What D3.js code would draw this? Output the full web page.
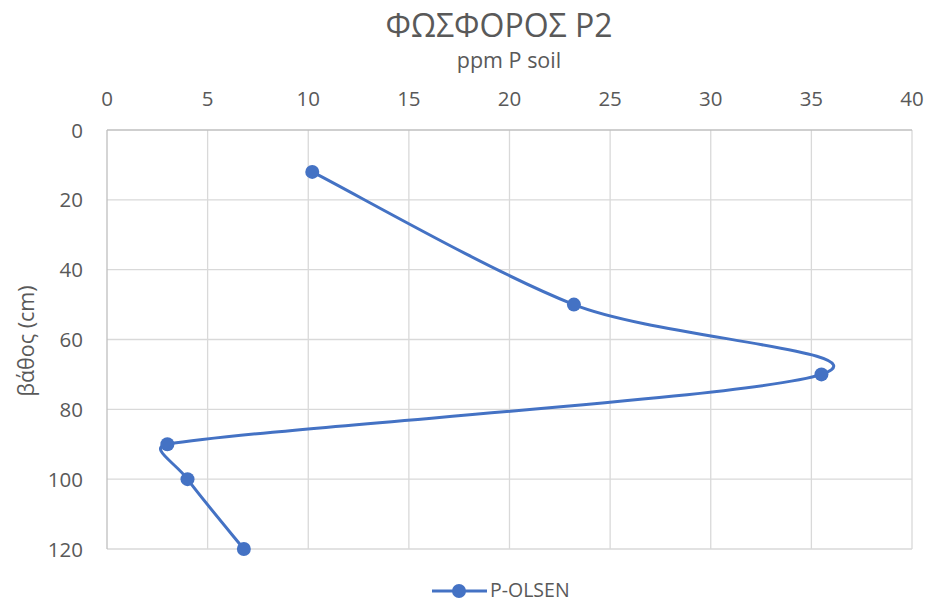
<!DOCTYPE html>
<html><head><meta charset="utf-8">
<script src="https://cdn.jsdelivr.net/npm/d3@7"></script>
<style>body{margin:0;background:#fff}svg{display:block}text{font-family:"Open Sans",sans-serif}</style>
</head><body>
<script>
const ppm = [10.2, 23.2, 35.5, 3.0, 4.0, 6.8];
const depth = [12, 50, 70, 90, 100, 120];
const xTicks = [0,5,10,15,20,25,30,35,40];
const yTicks = [0,20,40,60,80,100,120];
const seriesName = "P-OLSEN";

const W=930,H=602;
const svg=d3.select("body").append("svg").attr("width",W).attr("height",H);
const x=d3.scaleLinear().domain([0,40]).range([107,912]);
const y=d3.scaleLinear().domain([0,120]).range([130,549]);
const col="#4472C4";

// gridlines
svg.append("g").selectAll("line.v").data(xTicks.slice(1)).join("line")
 .attr("x1",d=>x(d)).attr("x2",d=>x(d)).attr("y1",y(0)).attr("y2",y(120))
 .attr("stroke","#D9D9D9").attr("stroke-width",1.3);
svg.append("g").selectAll("line.h").data(yTicks.slice(1)).join("line")
 .attr("x1",x(0)).attr("x2",x(40)).attr("y1",d=>y(d)).attr("y2",d=>y(d))
 .attr("stroke","#D9D9D9").attr("stroke-width",1.3);
// axis lines
svg.append("line").attr("x1",x(0)).attr("x2",x(40)).attr("y1",y(0)).attr("y2",y(0)).attr("stroke","#BFBFBF").attr("stroke-width",1.3);
svg.append("line").attr("x1",x(0)).attr("x2",x(0)).attr("y1",y(0)).attr("y2",y(120)).attr("stroke","#BFBFBF").attr("stroke-width",1.3);

// tick labels
svg.append("g").selectAll("text").data(xTicks).join("text")
 .attr("x",d=>x(d)).attr("y",106).attr("text-anchor","middle")
 .attr("font-size",20.5).attr("fill","#595959").text(d=>d);
svg.append("g").selectAll("text").data(yTicks).join("text")
 .attr("x",83).attr("y",d=>y(d)+7.5).attr("text-anchor","end")
 .attr("font-size",20.5).attr("fill","#595959").text(d=>d);

// titles
svg.append("text").attr("x",499).attr("y",37).attr("text-anchor","middle")
 .attr("font-size",32).attr("fill","#595959").text("ΦΩΣΦΟΡΟΣ P2");
svg.append("text").attr("x",509).attr("y",68).attr("text-anchor","middle")
 .attr("font-size",21.5).attr("fill","#595959").text("ppm P soil");
svg.append("text").attr("transform","translate(34,341) rotate(-90)").attr("text-anchor","middle")
 .attr("font-size",21.5).attr("fill","#595959").text("βάθος (cm)");

// Excel-like smoothed line: cubic Bezier, arms = 1/6 of neighbour chord, clamped to half of segment length
const pts=ppm.map((v,i)=>[x(v),y(depth[i])]);
function smoothPath(p){
  const n=p.length, P=i=>p[Math.max(0,Math.min(n-1,i))];
  let d=`M${p[0][0]},${p[0][1]}`;
  for(let i=0;i<n-1;i++){
    const p0=P(i-1),p1=P(i),p2=P(i+1),p3=P(i+2);
    const seg=Math.hypot(p2[0]-p1[0],p2[1]-p1[1]);
    let t1=[(p2[0]-p0[0])/6,(p2[1]-p0[1])/6];
    let t2=[(p3[0]-p1[0])/6,(p3[1]-p1[1])/6];
    const clamp=t=>{const l=Math.hypot(t[0],t[1]),m=0.5*seg;return l>m?[t[0]*m/l,t[1]*m/l]:t;};
    t1=clamp(t1);t2=clamp(t2);
    d+=`C${p1[0]+t1[0]},${p1[1]+t1[1]} ${p2[0]-t2[0]},${p2[1]-t2[1]} ${p2[0]},${p2[1]}`;
  }
  return d;
}
svg.append("path").attr("d",smoothPath(pts))
 .attr("fill","none").attr("stroke",col).attr("stroke-width",3).attr("stroke-linecap","round");
svg.append("g").selectAll("circle").data(pts).join("circle")
 .attr("cx",d=>d[0]).attr("cy",d=>d[1]).attr("r",7).attr("fill",col);

// legend
svg.append("line").attr("x1",432).attr("x2",487).attr("y1",591).attr("y2",591).attr("stroke",col).attr("stroke-width",3);
svg.append("circle").attr("cx",459).attr("cy",591).attr("r",7).attr("fill",col);
svg.append("text").attr("x",490).attr("y",597).attr("font-size",19.5).attr("fill","#595959").text(seriesName);
</script>
</body></html>
